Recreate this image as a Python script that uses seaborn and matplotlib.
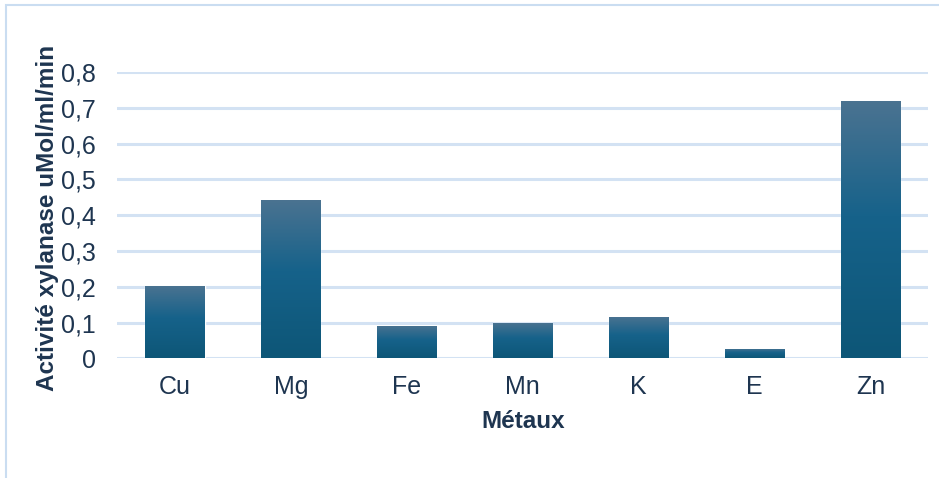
import numpy as np
import pandas as pd
import matplotlib
matplotlib.use("Agg")
import matplotlib.pyplot as plt
from matplotlib.colors import LinearSegmentedColormap
from matplotlib.patches import Rectangle
import seaborn as sns

# Xylanase activity per metal ion
metals = ["Cu", "Mg", "Fe", "Mn", "K", "E", "Zn"]
activity = [0.202, 0.443, 0.090, 0.099, 0.115, 0.026, 0.720]
y_ticks = [0, 0.1, 0.2, 0.3, 0.4, 0.5, 0.6, 0.7, 0.8]
y_tick_labels = ["0", "0,1", "0,2", "0,3", "0,4", "0,5", "0,6", "0,7", "0,8"]

sns.set_theme(style="white")
plt.rcParams["font.family"] = ["Liberation Sans", "DejaVu Sans"]

text_color = "#1E3550"
grid_color = "#D3E2F3"

df = pd.DataFrame({"metal": metals, "activity": activity})

fig = plt.figure(figsize=(9.39, 4.78), dpi=100)
ax = fig.add_axes([117 / 939, 1 - 358.3 / 478, (928.5 - 117) / 939, (358.3 - 72) / 478])

sns.barplot(data=df, x="metal", y="activity", ax=ax, color="#1B6487",
            width=0.51, saturation=1, zorder=3)

# vertical gradient inside each bar
grad_cmap = LinearSegmentedColormap.from_list(
    "bar_grad", [(0.0, "#0D5677"), (0.55, "#16628A"), (1.0, "#4B7391")])
grad = np.linspace(0, 1, 256).reshape(-1, 1)
for patch in ax.patches:
    x0, y0 = patch.get_x(), patch.get_y()
    w, h = patch.get_width(), patch.get_height()
    img = ax.imshow(grad, cmap=grad_cmap, origin="lower", aspect="auto",
                    extent=[x0, x0 + w, y0, y0 + h], zorder=4,
                    interpolation="bilinear")
    img.set_clip_path(patch)

ax.set_xlim(-0.5, len(metals) - 0.5)
ax.set_ylim(0, 0.8)
ax.set_yticks(y_ticks)
ax.set_yticklabels(y_tick_labels)
ax.yaxis.grid(True, color=grid_color, linewidth=2.2, zorder=0)
ax.set_axisbelow(True)
for s in ax.spines.values():
    s.set_visible(False)
ax.tick_params(axis="both", length=0, labelsize=18, colors=text_color)
ax.tick_params(axis="y", pad=15)
ax.tick_params(axis="x", pad=12)

ax.set_xlabel("Métaux", fontsize=17.5, fontweight="bold", color=text_color, labelpad=8)
ax.set_ylabel("Activité xylanase uMol/ml/min", fontsize=17.5, fontweight="bold",
              color=text_color, labelpad=2)
ax.yaxis.label.set_y(0.49)

# outer chart frame
fig.patches.append(Rectangle((6 / 939, -0.1), 1.2, (1 - 5 / 478) + 0.1,
                             transform=fig.transFigure, fill=False,
                             edgecolor="#CADDF1", linewidth=1.5))

fig.savefig("out.png", dpi=100, facecolor="white")
